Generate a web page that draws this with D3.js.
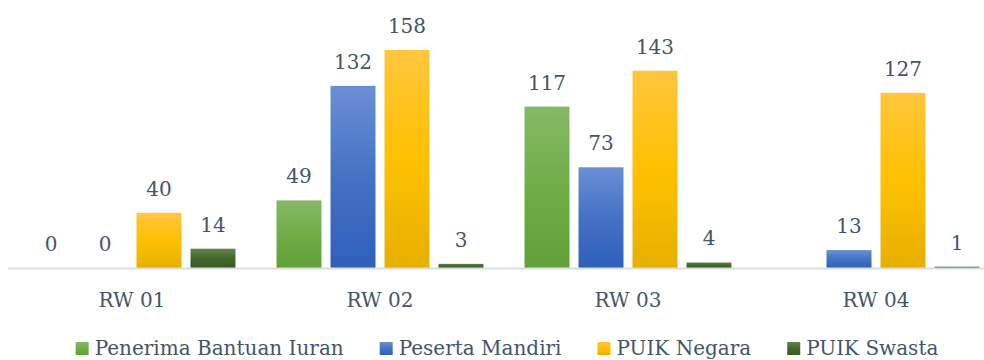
<!DOCTYPE html>
<html>
<head>
<meta charset="utf-8">
<script src="https://cdn.jsdelivr.net/npm/d3@7/dist/d3.min.js"></script>
<style>
  html, body { margin: 0; padding: 0; background: #fff; }
  svg { display: block; }
  text { font-family: "DejaVu Serif", serif; fill: #44546a; }
</style>
</head>
<body>
<svg id="chart" width="984" height="360"></svg>
<script>
// Participants per RW, by membership type
const categories = ["RW 01", "RW 02", "RW 03", "RW 04"];
const seriesNames = ["Penerima Bantuan Iuran", "Peserta Mandiri", "PUIK Negara", "PUIK Swasta"];
const penerimaBantuanIuran = [0, 49, 117, null];
const pesertaMandiri = [0, 132, 73, 13];
const puikNegara = [40, 158, 143, 127];
const puikSwasta = [14, 3, 4, 1];
const seriesValues = [penerimaBantuanIuran, pesertaMandiri, puikNegara, puikSwasta];

// Gradient stops (top, middle, bottom) for each series
const seriesColors = [
  ["#86b966", "#70ad47", "#62a03a"],
  ["#6b8fd4", "#4472c4", "#2f5fb9"],
  ["#ffc63e", "#ffc000", "#e6b000"],
  ["#62834b", "#43682b", "#375a22"]
];

const svg = d3.select("#chart");
const baseline = 268;

const defs = svg.append("defs");
seriesColors.forEach((c, i) => {
  const g = defs.append("linearGradient")
    .attr("id", "grad" + i)
    .attr("x1", 0).attr("y1", 0).attr("x2", 0).attr("y2", 1);
  g.append("stop").attr("offset", "0%").attr("stop-color", c[0]);
  g.append("stop").attr("offset", "50%").attr("stop-color", c[1]);
  g.append("stop").attr("offset", "100%").attr("stop-color", c[2]);
});

const x0 = d3.scaleBand().domain(categories).range([8, 1000]).padding(0);
const x1 = d3.scaleBand().domain(d3.range(seriesNames.length))
  .range([0, x0.bandwidth()]).paddingInner(0.167).paddingOuter(0.38);
const y = d3.scaleLinear().domain([0, 158]).range([baseline, 50]);

// Bars
const groups = svg.append("g").selectAll("g")
  .data(categories)
  .join("g")
  .attr("transform", d => `translate(${x0(d)},0)`);

const cells = groups.selectAll("g.cell")
  .data((cat, ci) => seriesValues.map((vals, si) => ({ si, v: vals[ci] })))
  .join("g").attr("class", "cell");

cells.filter(d => d.v != null && d.v > 0)
  .append("rect")
  .attr("x", d => x1(d.si))
  .attr("width", x1.bandwidth())
  .attr("y", d => y(d.v))
  .attr("height", d => baseline - y(d.v))
  .attr("fill", d => `url(#grad${d.si})`);

// Value labels
cells.filter(d => d.v != null)
  .append("text")
  .attr("x", d => x1(d.si) + x1.bandwidth() / 2)
  .attr("y", d => y(d.v) - 17)
  .attr("text-anchor", "middle")
  .style("font-size", "20px")
  .text(d => d.v);

// Category axis
svg.append("line")
  .attr("x1", 8).attr("x2", 984)
  .attr("y1", baseline + 0.5).attr("y2", baseline + 0.5)
  .attr("stroke", "#d9dde4").attr("stroke-width", 2);

svg.append("g").selectAll("text")
  .data(categories)
  .join("text")
  .attr("x", d => x0(d) + x0.bandwidth() / 2)
  .attr("y", 307)
  .attr("text-anchor", "middle")
  .style("font-size", "20px")
  .text(d => d);

// Legend
const legend = svg.append("g");
const items = legend.selectAll("g").data(seriesNames).join("g");
items.append("rect")
  .attr("width", 13).attr("height", 13)
  .attr("y", 342)
  .attr("fill", (d, i) => `url(#grad${i})`);
items.append("text")
  .attr("x", 19)
  .attr("y", 355)
  .style("font-size", "20px")
  .text(d => d);

const widths = [];
items.each(function () { widths.push(19 + this.querySelector("text").getComputedTextLength()); });
const gap = 36;
const total = d3.sum(widths) + gap * (widths.length - 1);
let cx = 507 - total / 2;
items.attr("transform", (d, i) => {
  const t = `translate(${cx},0)`;
  cx += widths[i] + gap;
  return t;
});
</script>
</body>
</html>
